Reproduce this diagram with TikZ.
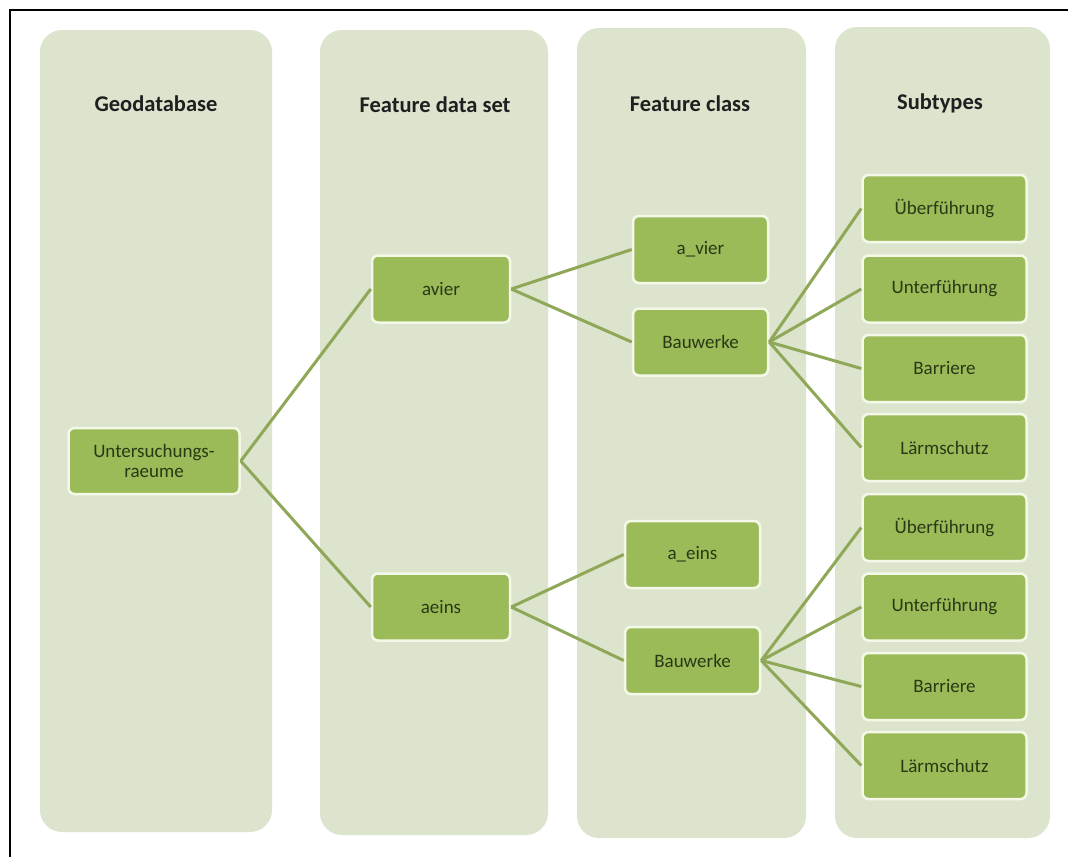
\documentclass[tikz,border=0pt]{standalone}
\usepackage{fontspec}
\setmainfont{Carlito}
\begin{document}
\definecolor{colfill}{HTML}{DCE4CE}
\definecolor{boxfill}{HTML}{9BBB59}
\definecolor{boxedge}{HTML}{F4F8E8}
\definecolor{linkcol}{HTML}{8FA857}
\definecolor{boxtext}{HTML}{2A3814}
\begin{tikzpicture}[x=1pt,y=-1pt,
  column/.style={rectangle,rounded corners=22pt,fill=colfill,inner sep=0pt},
  coltitle/.style={font=\fontsize{22.5}{26}\selectfont\bfseries,text=black!88},
  item/.style={rectangle,rounded corners=6pt,fill=boxfill,draw=boxedge,line width=2.5pt,
    inner sep=0pt,align=center,text=boxtext,font=\fontsize{19}{20}\selectfont},
  link/.style={draw=linkcol,line width=3pt}]
\useasboundingbox (0,0) rectangle (1068,857);
\fill[white] (0,0) rectangle (1068,857);
% frame edges
\draw[black,line width=2pt] (9.5,857) -- (9.5,9.5) -- (1068,9.5);

% columns
\node[column,minimum width=232pt,minimum height=802pt] (col1) at (156,431) {};
\node[column,minimum width=228pt,minimum height=805pt] (col2) at (434,432.5) {};
\node[column,minimum width=229pt,minimum height=810pt] (col3) at (691.5,433) {};
\node[column,minimum width=215pt,minimum height=811pt] (col4) at (942.5,432.5) {};

% column titles
\node[coltitle] (t1) at (156,104) {Geodatabase};
\node[coltitle] (t2) at (435,105) {Feature data set};
\node[coltitle] (t3) at (690,104) {Feature class};
\node[coltitle] (t4) at (940,103) {Subtypes};

% hierarchy boxes
\node[item,minimum width=171pt,minimum height=66pt] (root) at (154,461) {Untersuchungs-\\raeume};
\node[item,minimum width=138pt,minimum height=67pt] (avier) at (441,289) {avier};
\node[item,minimum width=138pt,minimum height=67pt] (aeins) at (441,607) {aeins};
\node[item,minimum width=135pt,minimum height=67pt] (avierfc) at (700.5,249.5) {a\_vier};
\node[item,minimum width=135pt,minimum height=67pt] (bauA) at (700.5,342) {Bauwerke};
\node[item,minimum width=135pt,minimum height=67pt] (aeinsfc) at (692.5,554.5) {a\_eins};
\node[item,minimum width=135pt,minimum height=67pt] (bauB) at (692.5,660.5) {Bauwerke};

\foreach \n/\y/\t in {sA1/208.5/Überführung, sA2/289/Unterführung, sA3/368.5/Barriere, sA4/447.5/Lärmschutz,
                      sB1/527.5/Überführung, sB2/607/Unterführung, sB3/686.5/Barriere, sB4/765.5/Lärmschutz}
  \node[item,minimum width=164pt,minimum height=67pt] (\n) at (944.5,\y) {\t};

% connectors
\draw[link] (root.east) -- (avier.west);
\draw[link] (root.east) -- (aeins.west);
\draw[link] (avier.east) -- (avierfc.west);
\draw[link] (avier.east) -- (bauA.west);
\draw[link] (aeins.east) -- (aeinsfc.west);
\draw[link] (aeins.east) -- (bauB.west);
\foreach \n in {sA1,sA2,sA3,sA4} \draw[link] (bauA.east) -- (\n.west);
\foreach \n in {sB1,sB2,sB3,sB4} \draw[link] (bauB.east) -- (\n.west);
\end{tikzpicture}
\end{document}
